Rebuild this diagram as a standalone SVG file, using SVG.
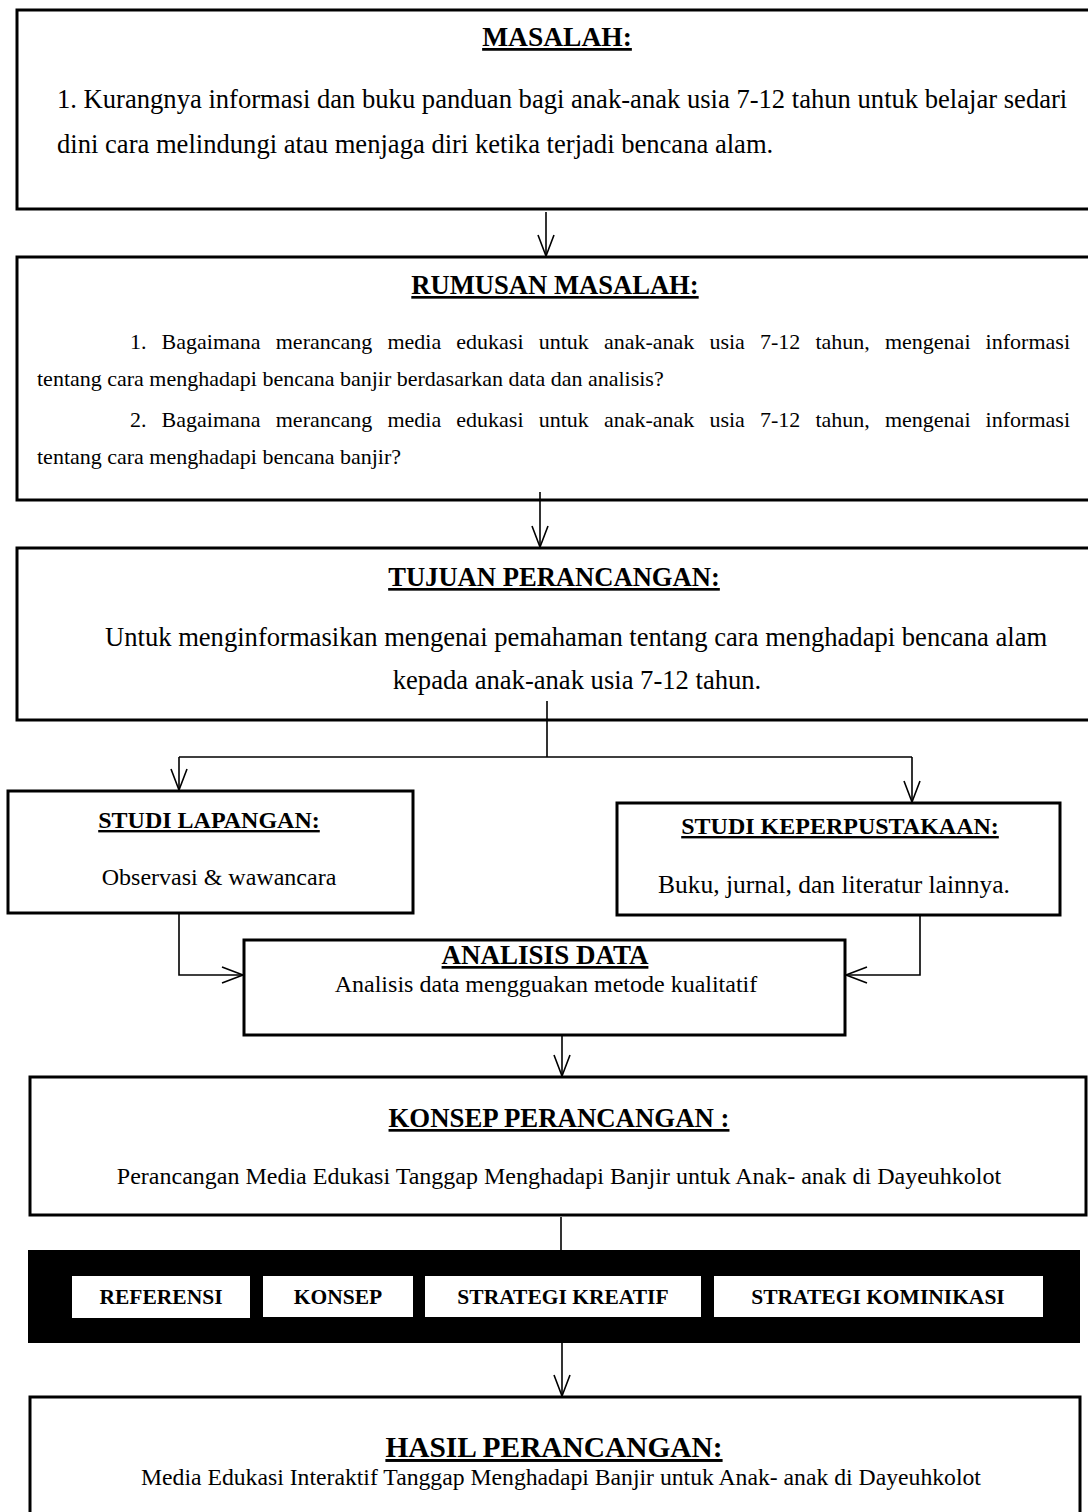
<svg xmlns="http://www.w3.org/2000/svg" width="1088" height="1512" viewBox="0 0 1088 1512">
<defs>
<style>
.box{fill:#fff;stroke:#000;stroke-width:3}
.t{font-family:"Liberation Serif","Times New Roman",serif;fill:#000}
.h{font-weight:bold;text-decoration:underline;text-anchor:middle}
.c{text-anchor:middle}
.j{word-spacing:9.6px}
.lab{font-family:"Liberation Serif","Times New Roman",serif;font-weight:bold;font-size:21.5px;text-anchor:middle;fill:#000}
.con{fill:none;stroke:#000;stroke-width:1.6}
</style>
<marker id="ah" viewBox="0 0 21 16" refX="21" refY="8" markerWidth="21" markerHeight="16" markerUnits="userSpaceOnUse" orient="auto" overflow="visible">
<path d="M0,0 L21,8 L0,16" fill="none" stroke="#000" stroke-width="1.6"/>
</marker>
</defs>

<g id="masalah">
<rect class="box" x="17" y="10" width="1090" height="199"/>
<text class="t h" x="557" y="46" font-size="27.5">MASALAH:</text>
<text class="t" x="57" y="108" font-size="26.6">1. Kurangnya informasi dan buku panduan bagi anak-anak usia 7-12 tahun untuk belajar sedari</text>
<text class="t" x="57" y="153" font-size="26.6">dini cara melindungi atau menjaga diri ketika terjadi bencana alam.</text>
</g>

<g id="rumusan">
<rect class="box" x="17" y="257" width="1090" height="243"/>
<text class="t h" x="555" y="294" font-size="26.6">RUMUSAN MASALAH:</text>
<text class="t j" x="130" y="349" font-size="22" textLength="940" lengthAdjust="spacing">1. Bagaimana merancang media edukasi untuk anak-anak usia 7-12 tahun, mengenai informasi</text>
<text class="t" x="37" y="386" font-size="22">tentang cara menghadapi bencana banjir berdasarkan data dan analisis?</text>
<text class="t j" x="130" y="427" font-size="22" textLength="940" lengthAdjust="spacing">2. Bagaimana merancang media edukasi untuk anak-anak usia 7-12 tahun, mengenai informasi</text>
<text class="t" x="37" y="464" font-size="22">tentang cara menghadapi bencana banjir?</text>
</g>

<g id="tujuan">
<rect class="box" x="17" y="548" width="1090" height="172"/>
<text class="t h" x="554" y="586" font-size="26.6">TUJUAN PERANCANGAN:</text>
<text class="t" x="105" y="646" font-size="26.6">Untuk menginformasikan mengenai pemahaman tentang cara menghadapi bencana alam</text>
<text class="t c" x="577" y="689" font-size="26.6">kepada anak-anak usia 7-12 tahun.</text>
</g>

<g id="studi-lapangan">
<rect class="box" x="8" y="791" width="405" height="122"/>
<text class="t h" x="209" y="828" font-size="24">STUDI LAPANGAN:</text>
<text class="t c" x="219" y="885" font-size="24">Observasi &amp; wawancara</text>
</g>

<g id="studi-keperpustakaan">
<rect class="box" x="617" y="803" width="443" height="112"/>
<text class="t h" x="840" y="834" font-size="24">STUDI KEPERPUSTAKAAN:</text>
<text class="t c" x="834" y="893" font-size="25.5">Buku, jurnal, dan literatur lainnya.</text>
</g>

<g id="analisis">
<rect class="box" x="244" y="940" width="601" height="95"/>
<text class="t h" x="545" y="964" font-size="27">ANALISIS DATA</text>
<text class="t c" x="546" y="992" font-size="24">Analisis data mengguakan metode kualitatif</text>
</g>

<g id="konsep">
<rect class="box" x="30" y="1077" width="1056" height="138"/>
<text class="t h" x="559" y="1127" font-size="26.8">KONSEP PERANCANGAN :</text>
<text class="t c" x="559" y="1184" font-size="24">Perancangan Media Edukasi Tanggap Menghadapi Banjir untuk Anak- anak di Dayeuhkolot</text>
</g>

<g id="strategi">
<rect x="28" y="1250" width="1052" height="93" fill="#000"/>
<rect x="72" y="1276" width="178" height="42" fill="#fff"/>
<rect x="263" y="1276" width="150" height="41" fill="#fff"/>
<rect x="425" y="1276" width="276" height="41" fill="#fff"/>
<rect x="714" y="1276" width="329" height="41" fill="#fff"/>
<text class="lab" x="161" y="1304">REFERENSI</text>
<text class="lab" x="338" y="1304">KONSEP</text>
<text class="lab" x="563" y="1304">STRATEGI KREATIF</text>
<text class="lab" x="878" y="1304">STRATEGI KOMINIKASI</text>
</g>

<g id="hasil">
<rect class="box" x="30" y="1397" width="1050" height="140"/>
<text class="t h" x="554" y="1457" font-size="29.4">HASIL PERANCANGAN:</text>
<text class="t c" x="561" y="1485" font-size="23.7">Media Edukasi Interaktif Tanggap Menghadapi Banjir untuk Anak- anak di Dayeuhkolot</text>
</g>

<g id="connectors">
<path class="con" d="M546,212 V256" marker-end="url(#ah)"/>
<path class="con" d="M540,492 V547" marker-end="url(#ah)"/>
<path class="con" d="M547,701 V757 M179,757 H912"/>
<path class="con" d="M179,757 V790" marker-end="url(#ah)"/>
<path class="con" d="M912,757 V802" marker-end="url(#ah)"/>
<path class="con" d="M179,913 V975 H243" marker-end="url(#ah)"/>
<path class="con" d="M920,915 V975 H846" marker-end="url(#ah)"/>
<path class="con" d="M562,1035 V1076" marker-end="url(#ah)"/>
<path class="con" d="M561,1217 V1250"/>
<path class="con" d="M562,1343 V1396" marker-end="url(#ah)"/>
</g>
</svg>
